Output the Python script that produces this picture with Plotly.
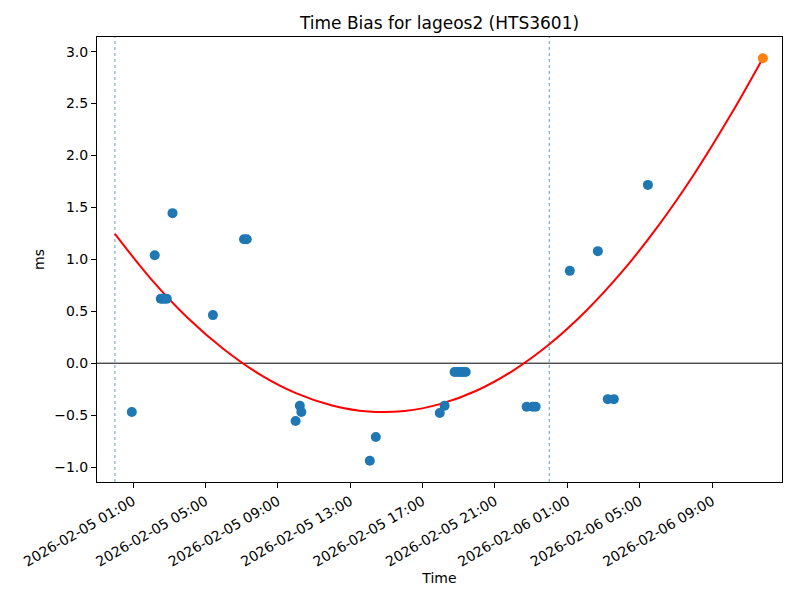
import plotly.graph_objects as go

# ---- data ----
obs_times = [
    "2026-02-05 00:56", "2026-02-05 02:12",
    "2026-02-05 02:32", "2026-02-05 02:38", "2026-02-05 02:45", "2026-02-05 02:52",
    "2026-02-05 03:11", "2026-02-05 05:25",
    "2026-02-05 07:08", "2026-02-05 07:17",
    "2026-02-05 09:59", "2026-02-05 10:13", "2026-02-05 10:18",
    "2026-02-05 14:05", "2026-02-05 14:25",
    "2026-02-05 17:57", "2026-02-05 18:13",
    "2026-02-05 18:46", "2026-02-05 18:56", "2026-02-05 19:06", "2026-02-05 19:14", "2026-02-05 19:23",
    "2026-02-05 22:45", "2026-02-05 23:05", "2026-02-05 23:15",
    "2026-02-06 01:08", "2026-02-06 02:41",
    "2026-02-06 03:14", "2026-02-06 03:34",
    "2026-02-06 05:27",
]
obs_bias = [
    -0.47, 1.04,
    0.62, 0.62, 0.62, 0.62,
    1.445, 0.463,
    1.194, 1.194,
    -0.557, -0.41, -0.47,
    -0.94, -0.711,
    -0.48, -0.41,
    -0.085, -0.085, -0.085, -0.085, -0.085,
    -0.42, -0.42, -0.42,
    0.889, 1.079,
    -0.346, -0.346,
    1.717,
]

fit_times = [
    "2026-02-05 00:00", "2026-02-05 02:00", "2026-02-05 04:00", "2026-02-05 06:00",
    "2026-02-05 08:00", "2026-02-05 10:00", "2026-02-05 12:00", "2026-02-05 14:00",
    "2026-02-05 16:00", "2026-02-05 18:00", "2026-02-05 20:00", "2026-02-05 22:00",
    "2026-02-06 00:00", "2026-02-06 02:00", "2026-02-06 04:00", "2026-02-06 06:00",
    "2026-02-06 08:00", "2026-02-06 10:00", "2026-02-06 11:48",
]
fit_bias = [
    1.245, 0.81, 0.44, 0.137,
    -0.107, -0.288, -0.407, -0.465,
    -0.46, -0.392, -0.263, -0.071,
    0.182, 0.498, 0.876, 1.317,
    1.819, 2.384, 2.937,
]

pred_time = ["2026-02-06 11:48"]
pred_bias = [2.937]

day_lines = ["2026-02-05 00:00", "2026-02-06 00:00"]

x_ticks = [
    "2026-02-05 01:00", "2026-02-05 05:00", "2026-02-05 09:00", "2026-02-05 13:00",
    "2026-02-05 17:00", "2026-02-05 21:00", "2026-02-06 01:00", "2026-02-06 05:00",
    "2026-02-06 09:00",
]
y_ticks = [-1.0, -0.5, 0.0, 0.5, 1.0, 1.5, 2.0, 2.5, 3.0]

x_range = ["2026-02-04 23:00:40", "2026-02-06 12:51:30"]
y_range = [-1.144, 3.141]

FONT = "DejaVu Sans"

fig = go.Figure()

fig.add_trace(go.Scatter(
    x=fit_times, y=fit_bias, mode="lines",
    line=dict(color="red", width=2, shape="spline"),
    showlegend=False, hoverinfo="skip",
))
fig.add_trace(go.Scatter(
    x=obs_times, y=obs_bias, mode="markers",
    marker=dict(color="#1f77b4", size=10, line=dict(width=0)),
    showlegend=False,
))
fig.add_trace(go.Scatter(
    x=pred_time, y=pred_bias, mode="markers",
    marker=dict(color="#ff7f0e", size=10, line=dict(width=0)),
    showlegend=False,
))

shapes = []
for d in day_lines:
    shapes.append(dict(type="line", xref="x", yref="paper", x0=d, x1=d, y0=0, y1=1,
                       line=dict(color="rgba(31,119,180,0.9)", width=0.8, dash="dot"),
                       layer="below"))
shapes.append(dict(type="line", xref="paper", yref="y", x0=0, x1=1, y0=0, y1=0,
                   line=dict(color="black", width=1), layer="below"))

fig.update_layout(
    width=792, height=592,
    margin=dict(l=89, r=18, t=29, b=118, autoexpand=False),
    paper_bgcolor="white", plot_bgcolor="white",
    font=dict(family=FONT, size=14, color="black"),
    title=dict(text="Time Bias for lageos2 (HTS3601)", x=0.5, xanchor="center",
               xref="paper", y=1 - 15 / 592, yanchor="middle", yref="container",
               font=dict(family=FONT, size=17, color="black")),
    shapes=shapes,
    showlegend=False,
)
fig.update_xaxes(
    type="date", range=x_range,
    tickvals=x_ticks, tickformat="%Y-%m-%d %H:%M", tickangle=-30,
    showgrid=False, zeroline=False,
    showline=True, linecolor="black", linewidth=1, mirror=True,
    ticks="outside", ticklen=5, tickcolor="black",
    tickfont=dict(family=FONT, size=14),
    title=dict(text="Time", font=dict(family=FONT, size=14), standoff=3),
    automargin=False,
)
fig.update_yaxes(
    range=y_range, tickvals=y_ticks, tickformat=".1f",
    showgrid=False, zeroline=False,
    showline=True, linecolor="black", linewidth=1, mirror=True,
    ticks="outside", ticklen=5, tickcolor="black",
    tickfont=dict(family=FONT, size=14),
    title=dict(text="ms", font=dict(family=FONT, size=14), standoff=6),
    automargin=False,
)

fig.write_html("out.html")
